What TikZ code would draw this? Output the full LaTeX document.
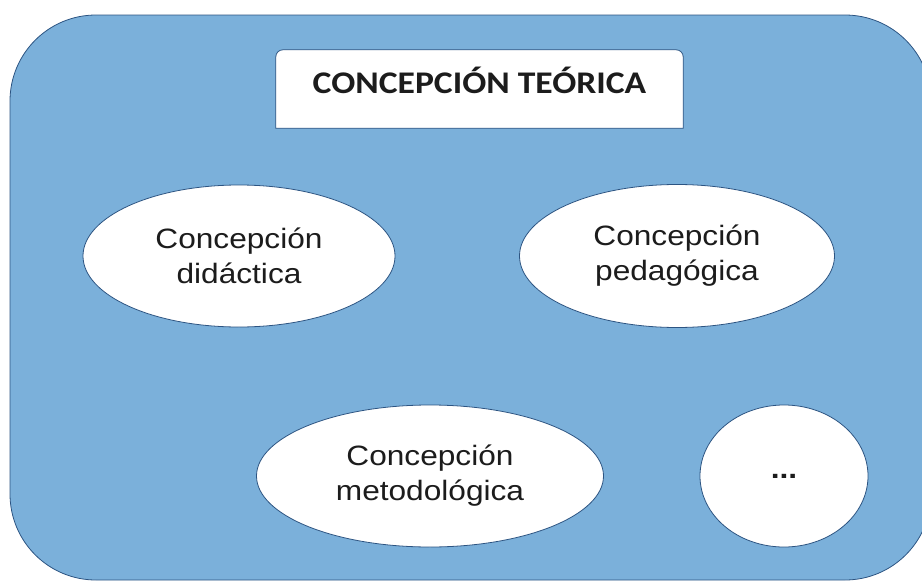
\documentclass[tikz,border=0pt]{standalone}
\usepackage{fontspec}
\setmainfont{Liberation Sans}[FakeStretch=1.13]
\newfontfamily\titlefont{Carlito}[FakeStretch=1.13]
\usetikzlibrary{shapes.geometric}
\definecolor{bluefill}{RGB}{123,176,218}
\definecolor{framecol}{RGB}{44,84,130}
\definecolor{inkcol}{RGB}{28,28,28}

\begin{document}
\begin{tikzpicture}[x = 1pt, y = -1pt,
	frame/.style = {draw = framecol, fill = bluefill, line width = 0.8pt, rounded corners = 86pt},
	idea/.style = {ellipse, draw = framecol, fill = white, line width = 0.8pt, inner sep = 0pt, align = center, text = inkcol, font = \fontsize{28}{35}\selectfont},
	titlebox/.style = {draw = framecol, fill = white, line width = 0.8pt}]
	 \useasboundingbox (0, 0) rectangle (922, 581);
	 \draw[frame] (10, 15) rectangle (931, 580);
	 
	 \node[minimum width = 407pt, minimum height = 78pt, inner sep = 0pt, text height = 20pt, text depth = 12pt, text = inkcol, font = \titlefont\bfseries\fontsize{31.5}{36}\selectfont] (title) at (479.5, 89) {};
	 \draw[titlebox] (title.south west) [rounded corners = 7pt] -- (title.north west) -- (title.north east) [sharp corners] -- (title.south east) -- cycle;
	 \node[text height = 20pt, text depth = 12pt, text = inkcol, font = \titlefont\bfseries\fontsize{31.5}{36}\selectfont] (titletext) at (title) {CONCEPCIÓN TEÓRICA};
	 
	 \node[idea, minimum width = 312pt, minimum height = 142pt] (didactica) at (239, 256) {Concepción\\didáctica};
	 \node[idea, minimum width = 315pt, minimum height = 143pt] (pedagogica) at (677, 256) {Concepción\\pedagógica};
	 \node[idea, minimum width = 347pt, minimum height = 142pt] (metodologica) at (430, 476) {Concepción\\metodológica};
	 \node[idea, minimum width = 168pt, minimum height = 142pt, font = \bfseries\fontsize{28}{35}\selectfont] (otras) at (784, 476) {...};
	 \end{tikzpicture}
\end{document}
